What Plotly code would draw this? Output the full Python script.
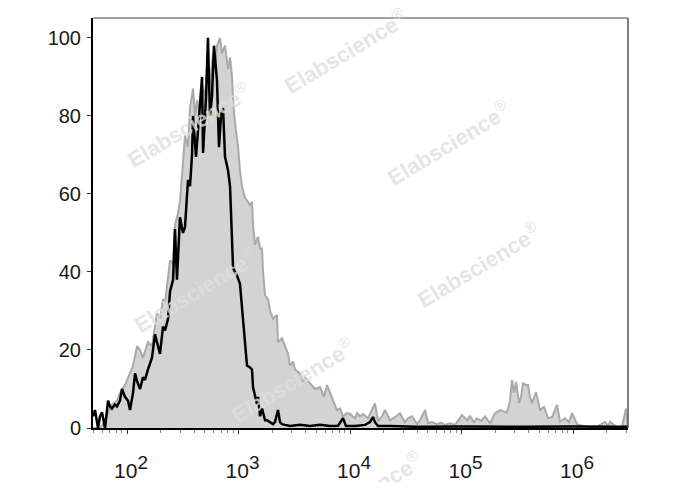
import numpy as np
import plotly.graph_objects as go

# log10 of fluorescence intensity and % of max
gray_log = [1.695, 1.758, 1.785, 1.830, 1.865, 1.910, 1.937, 1.982, 2.027, 2.054, 2.090, 2.117, 2.143, 2.188,
            2.224, 2.251, 2.269, 2.296, 2.323, 2.341, 2.368, 2.386, 2.413, 2.430, 2.457, 2.475, 2.502, 2.520,
            2.547, 2.565, 2.592, 2.610, 2.628, 2.655, 2.673, 2.700, 2.717, 2.744, 2.771, 2.789, 2.807, 2.834,
            2.852, 2.879, 2.906, 2.924, 2.942, 2.951, 2.969, 2.996, 3.013, 3.031, 3.058, 3.085, 3.103, 3.121,
            3.130, 3.148, 3.175, 3.193, 3.211, 3.220, 3.238, 3.265, 3.283, 3.309, 3.345, 3.354, 3.390, 3.417,
            3.444, 3.462, 3.489, 3.507, 3.552, 3.578, 3.596, 3.641, 3.686, 3.731, 3.767, 3.794, 3.821, 3.848,
            3.883, 3.910, 3.937, 3.973, 4.000, 4.045, 4.063, 4.090, 4.117, 4.161, 4.224, 4.251, 4.287, 4.314,
            4.359, 4.404, 4.448, 4.493, 4.520, 4.556, 4.601, 4.628, 4.673, 4.700, 4.735, 4.780, 4.816, 4.852,
            4.897, 4.942, 5.004, 5.049, 5.076, 5.112, 5.139, 5.175, 5.211, 5.256, 5.300, 5.345, 5.408, 5.435,
            5.453, 5.471, 5.489, 5.516, 5.534, 5.552, 5.578, 5.596, 5.614, 5.632, 5.668, 5.704, 5.740, 5.776,
            5.812, 5.857, 5.883, 5.928, 5.964, 5.991, 6.036, 6.090, 6.152, 6.215, 6.287, 6.314, 6.332, 6.395,
            6.439, 6.475, 6.493]
gray_pct = [0, 0, 1, 4, 6, 7, 9, 11, 14, 16, 21, 20, 18, 22,
            21, 27, 29.5, 28, 33, 32, 39, 43, 42, 52, 55, 58, 68, 75,
            72, 82, 87, 80, 84, 80, 88, 85, 92, 88, 96, 92, 98, 100,
            96, 98, 92, 95, 90, 84, 78, 72, 66, 62, 59, 58, 57, 58,
            52, 47, 49, 46, 46, 40, 34, 33, 30, 28, 29, 22, 23, 21,
            19, 16, 17, 15, 14, 12, 13, 11.5, 10, 10.5, 8, 11, 9, 7,
            4.6, 5, 3, 3.8, 3.6, 2.5, 3.8, 3, 3.6, 2.5, 6.3, 1.8, 3, 4.6,
            2, 2.8, 3.8, 1.5, 2.5, 3, 1, 2, 4.6, 1.2, 1.5, 1, 1.4, 0.8,
            1.2, 0.8, 3.3, 2, 3, 1.5, 2.5, 1.8, 3, 1.2, 3.8, 4.6, 4, 7,
            12.3, 9, 11.8, 6.4, 8, 11.5, 11, 11, 8, 6.4, 9.2, 4.6, 5.4, 2.5,
            2.8, 5.9, 1.6, 2.5, 1.5, 3.8, 1, 0.5, 0.2, 0.3, 1.6, 0.5, 1.6, 0.2,
            0.3, 5, 0]

black_log = [1.695, 1.713, 1.740, 1.758, 1.776, 1.803, 1.830, 1.848, 1.865, 1.892, 1.910, 1.937, 1.955, 1.982,
             2.009, 2.027, 2.054, 2.072, 2.090, 2.117, 2.143, 2.161, 2.188, 2.224, 2.251, 2.278, 2.296, 2.323,
             2.341, 2.368, 2.386, 2.413, 2.430, 2.448, 2.475, 2.502, 2.520, 2.547, 2.565, 2.583, 2.592, 2.619,
             2.646, 2.673, 2.682, 2.709, 2.726, 2.744, 2.762, 2.780, 2.807, 2.825, 2.843, 2.861, 2.879, 2.906,
             2.924, 2.951, 2.987, 3.013, 3.040, 3.058, 3.076, 3.103, 3.121, 3.130, 3.148, 3.166, 3.175, 3.193,
             3.211, 3.220, 3.238, 3.256, 3.283, 3.309, 3.327, 3.354, 3.372, 3.390, 3.417, 3.462, 3.552, 3.641,
             3.731, 3.821, 3.892, 3.937, 3.964, 4.045, 4.135, 4.179, 4.206, 4.224, 4.251, 4.359, 4.600, 5.000,
             5.500, 6.000, 6.493]
black_pct = [3, 4.6, 0, 3, 4, 0, 7, 5.5, 5, 6, 5.5, 7, 10, 8,
             7, 4.6, 9, 14, 12, 10, 13, 12.3, 15, 18, 24, 21, 19, 26,
             25, 28, 35, 38, 51, 38, 54, 50, 51.5, 63.6, 62, 70, 80, 69.5,
             80, 90, 70.5, 85, 100, 80, 85, 98, 89, 72, 80, 82, 69.5, 66,
             62, 41, 39, 37, 28, 22, 16, 15.5, 15, 10.5, 8, 6, 8, 3,
             5, 4, 2, 2, 1.5, 1, 1.5, 4.6, 1.5, 1, 0.8, 0.5, 0.8, 0.5,
             0.8, 0.5, 0.6, 2.5, 0.5, 0.5, 0.8, 1.5, 2.8, 1.5, 0.5, 0.5, 0.3, 0.4,
             0.3, 0.4, 0.3]

x_tick_vals = [1e2, 1e3, 1e4, 1e5, 1e6]
x_tick_exps = ["2", "3", "4", "5", "6"]
y_tick_vals = [0, 20, 40, 60, 80, 100]

watermark = "<b>Elabscience</b><sup>®</sup>"
# watermark centres in page pixels
wm_pos = [(345, 51), (188, 125), (448, 143), (195, 290), (478, 265), (292, 380), (360, 494)]

OFF = 8  # page body margin
W, H = 672, 474
L, R, T, B = 85, 52, 10, 54

x_tick_text = ["10<sup><span style='font-size:19px'>%s</span></sup>" % e for e in x_tick_exps]

fig = go.Figure()
fig.add_trace(go.Scatter(x=10 ** np.array(gray_log), y=gray_pct, mode="lines",
                         line=dict(color="#a9a9a9", width=2), fill="tozeroy",
                         fillcolor="#d3d3d3", showlegend=False, hoverinfo="skip"))
fig.add_trace(go.Scatter(x=10 ** np.array(black_log), y=black_pct, mode="lines",
                         line=dict(color="#000000", width=2.5), showlegend=False, hoverinfo="skip"))

minor_vals = [m * 10 ** e for e in range(1, 7) for m in range(2, 10)]

fig.update_layout(
    width=W, height=H, margin=dict(l=L, r=R, t=T, b=B, autoexpand=False),
    paper_bgcolor="white", plot_bgcolor="white",
    font=dict(family="Arial, Liberation Sans, sans-serif", color="#1a1a1a"),
    xaxis=dict(type="log", range=[1.695, 6.493], tickvals=x_tick_vals, ticktext=x_tick_text,
               ticks="outside", ticklen=4, tickcolor="#333", showgrid=False, zeroline=False,
               showline=True, linecolor="#000", linewidth=2, tickfont=dict(size=21),
               ticklabelstandoff=19, ticklabelshift=4, automargin=False,
               minor=dict(tickvals=minor_vals, ticks="outside", ticklen=3, tickcolor="#888", showgrid=False)),
    yaxis=dict(range=[0, 105.1], tickvals=y_tick_vals, ticks="outside", ticklen=4, tickcolor="#333",
               showgrid=False, zeroline=False, showline=True, linecolor="#000", linewidth=2,
               tickfont=dict(size=20), ticklabelstandoff=2, automargin=False),
)

# top and right frame lines
fig.add_shape(type="line", xref="paper", yref="paper", x0=0, x1=1, y0=1, y1=1,
              line=dict(color="#808080", width=1.5))
fig.add_shape(type="line", xref="paper", yref="paper", x0=1, x1=1, y0=0, y1=1,
              line=dict(color="#555555", width=1.5))

pw, ph = W - L - R, H - T - B
for (px, py) in wm_pos:
    fig.add_annotation(xref="paper", yref="paper", x=(px - OFF - L) / pw, y=(H - B - (py - OFF)) / ph,
                       text=watermark, showarrow=False, textangle=-31,
                       font=dict(size=22, color="rgba(222,222,222,0.8)", family="Arial, Liberation Sans"),
                       xanchor="center", yanchor="middle")

fig.write_html("out.html")
